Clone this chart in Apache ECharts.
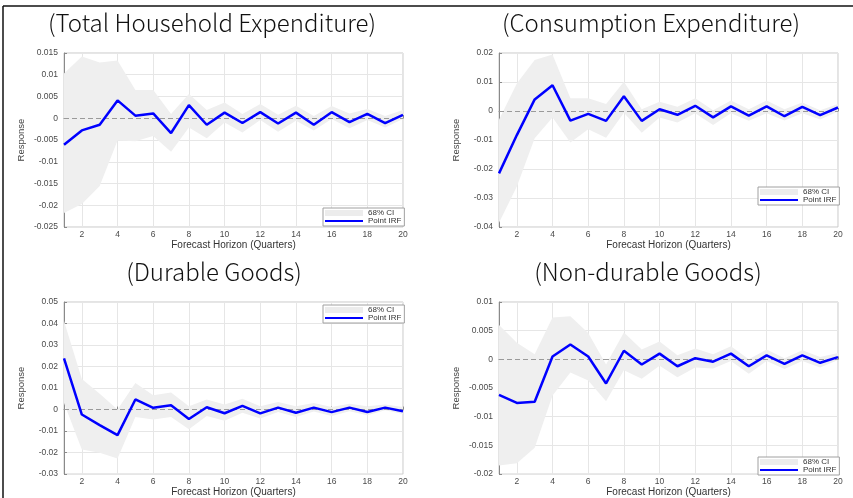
<!DOCTYPE html>
<html>
<head>
<meta charset="utf-8">
<script src="https://cdn.jsdelivr.net/npm/echarts@6/dist/echarts.min.js"></script>
<style>
  html, body { margin: 0; padding: 0; background: #fff; }
  #chart { width: 853px; height: 498px; }
</style>
</head>
<body>
<div id="chart"></div>
<script>
// Forecast horizon (quarters)
const horizon = [1,2,3,4,5,6,7,8,9,10,11,12,13,14,15,16,17,18,19,20];

// Panel titles
const panelTitles = ['(Total Household Expenditure)', '(Consumption Expenditure)', '(Durable Goods)', '(Non-durable Goods)'];

// Total household expenditure
const totalIrf   = [-0.0061,-0.0028,-0.0015,0.0041,0.0006,0.0011,-0.0034,0.0030,-0.0015,0.0013,-0.0011,0.0014,-0.0012,0.0013,-0.0015,0.0014,-0.0009,0.0010,-0.0011,0.0008];
const totalUpper = [0.0103,0.0142,0.0128,0.0133,0.0065,0.0065,0.0010,0.0056,0.0019,0.0036,0.0010,0.0033,0.0008,0.0029,0.0005,0.0028,0.0011,0.0021,0.0005,0.0019];
const totalLower = [-0.0218,-0.0197,-0.0156,-0.0051,-0.0053,-0.0041,-0.0077,-0.0021,-0.0046,-0.0010,-0.0033,-0.0004,-0.0031,-0.0006,-0.0028,-0.0002,-0.0023,-0.0004,-0.0021,-0.0002];

// Consumption expenditure
const consIrf   = [-0.0215,-0.0083,0.0040,0.0089,-0.0033,-0.0010,-0.0034,0.0051,-0.0034,0.0006,-0.0013,0.0018,-0.0022,0.0016,-0.0016,0.0016,-0.0018,0.0014,-0.0014,0.0012];
const consUpper = [-0.0030,0.0095,0.0176,0.0195,0.0044,0.0044,0.0024,0.0101,0.0006,0.0032,0.0015,0.0044,0.0003,0.0036,0.0006,0.0036,0.0006,0.0029,0.0003,0.0024];
const consLower = [-0.0385,-0.0260,-0.0094,-0.0022,-0.0109,-0.0063,-0.0092,-0.0006,-0.0075,-0.0022,-0.0040,-0.0008,-0.0048,-0.0008,-0.0034,-0.0008,-0.0033,-0.0008,-0.0029,-0.0002];

// Durable goods
const durIrf   = [0.0238,-0.0023,-0.0072,-0.0119,0.0047,0.0008,0.0020,-0.0044,0.0011,-0.0017,0.0017,-0.0018,0.0009,-0.0015,0.0009,-0.0012,0.0009,-0.0011,0.0009,-0.0008];
const durUpper = [0.0412,0.0142,0.0073,0.0000,0.0123,0.0066,0.0079,0.0015,0.0047,0.0024,0.0050,0.0015,0.0035,0.0015,0.0030,0.0012,0.0027,0.0015,0.0024,0.0012];
const durLower = [0.0030,-0.0186,-0.0201,-0.0227,-0.0034,-0.0046,-0.0034,-0.0091,-0.0030,-0.0052,-0.0015,-0.0041,-0.0011,-0.0034,-0.0009,-0.0030,-0.0008,-0.0026,-0.0003,-0.0021];

// Non-durable goods
const nondurIrf   = [-0.0062,-0.0076,-0.0074,0.0005,0.0026,0.0005,-0.0042,0.0015,-0.0009,0.0010,-0.0012,0.0002,-0.0004,0.0010,-0.0012,0.0007,-0.0008,0.0007,-0.0006,0.0004];
const nondurUpper = [0.0060,0.0029,0.0009,0.0073,0.0075,0.0046,-0.0009,0.0047,0.0017,0.0031,0.0007,0.0019,0.0009,0.0023,0.0000,0.0017,0.0002,0.0016,0.0004,0.0011];
const nondurLower = [-0.0185,-0.0181,-0.0154,-0.0063,-0.0023,-0.0037,-0.0073,-0.0019,-0.0034,-0.0011,-0.0031,-0.0014,-0.0016,-0.0003,-0.0025,-0.0003,-0.0017,-0.0003,-0.0014,-0.0001];

// y-axis ranges per panel: [min, max, interval]
const yRanges = [
  [-0.025, 0.015, 0.005],
  [-0.04, 0.02, 0.01],
  [-0.03, 0.05, 0.01],
  [-0.02, 0.01, 0.005]
];

const panels = [
  { irf: totalIrf,  upper: totalUpper,  lower: totalLower },
  { irf: consIrf,   upper: consUpper,   lower: consLower },
  { irf: durIrf,    upper: durUpper,    lower: durLower },
  { irf: nondurIrf, upper: nondurUpper, lower: nondurLower }
];

// Layout of the four plot areas
const grids = [
  { left: 64,  top: 53,  width: 339, height: 174 },
  { left: 499, top: 53,  width: 339, height: 174 },
  { left: 64,  top: 302, width: 339, height: 175 },
  { left: 499, top: 302, width: 339, height: 175 }
];
const legendPos = [
  { left: 323, top: 208 },
  { left: 758, top: 187 },
  { left: 323, top: 305 },
  { left: 758, top: 457 }
];
const titlePos = [[212, 23], [651, 23], [214, 272], [648, 272]];

const tickFont = { fontFamily: 'Liberation Sans', fontSize: 8.5, color: '#4a4a4a' };
const evenTick = (idx, val) => Number(val) % 2 === 0;

const option = {
  animation: false,
  backgroundColor: '#fff',
  grid: grids.map(g => Object.assign({ show: true, borderColor: '#c8c8c8', borderWidth: 1, backgroundColor: '#fff' }, g)),
  xAxis: grids.map((g, i) => ({
    type: 'category',
    gridIndex: i,
    data: horizon.map(String),
    boundaryGap: false,
    name: 'Forecast Horizon (Quarters)',
    nameLocation: 'middle',
    nameGap: 8,
    nameTextStyle: { fontFamily: 'Liberation Sans', fontSize: 10, color: '#333' },
    axisLine: { lineStyle: { color: '#8a8a8a', width: 1 } },
    axisTick: { interval: evenTick, length: 3, inside: true, lineStyle: { color: '#8a8a8a' } },
    axisLabel: Object.assign({ interval: evenTick, margin: 3 }, tickFont),
    splitLine: { show: true, interval: evenTick, lineStyle: { color: '#e6e6e6', width: 1 } }
  })),
  yAxis: yRanges.map((r, i) => ({
    type: 'value',
    gridIndex: i,
    min: r[0], max: r[1], interval: r[2],
    name: 'Response',
    nameLocation: 'middle',
    nameGap: 38,
    nameTextStyle: { fontFamily: 'Liberation Sans Narrow, Liberation Sans', fontSize: 9.5, color: '#444' },
    axisLine: { show: true, lineStyle: { color: '#8a8a8a', width: 1 } },
    axisTick: { show: true, length: 3, inside: true, lineStyle: { color: '#8a8a8a' } },
    axisLabel: Object.assign({ margin: 6 }, tickFont),
    splitLine: { show: true, lineStyle: { color: '#e6e6e6', width: 1 } }
  })),
  legend: legendPos.map((p, i) => ({
    left: p.left, top: p.top,
    orient: 'vertical',
    itemGap: 0,
    itemWidth: 38, itemHeight: 6,
    padding: [1, 3, 1, 2],
    borderColor: '#a0a0a0', borderWidth: 1,
    backgroundColor: '#fff',
    textStyle: { fontFamily: 'Liberation Sans', fontSize: 8, color: '#333', width: 28, align: 'right', padding: 0 },
    data: [
      { name: 'CI' + i, icon: 'rect', itemStyle: { color: '#ececec' } },
      { name: 'IRF' + i, icon: 'path://M0,0 L40,0 L40,2 L0,2 Z', itemStyle: { color: '#0000ff' } }
    ],
    formatter: name => name.startsWith('CI') ? '68% CI' : 'Point IRF',
    selectedMode: false
  })),
  graphic: [
    // outer frame lines
    { type: 'line', shape: { x1: 3, y1: 6, x2: 853, y2: 6 }, style: { stroke: '#111', lineWidth: 1.5 } },
    { type: 'line', shape: { x1: 3, y1: 6, x2: 3, y2: 498 }, style: { stroke: '#111', lineWidth: 1.5 } }
  ].concat(panelTitles.map((t, i) => ({
    type: 'text',
    x: titlePos[i][0], y: titlePos[i][1],
    style: {
      text: t,
      fontFamily: 'Noto Sans CJK KR',
      fontWeight: 300,
      fontSize: 24,
      fill: '#111',
      textAlign: 'center',
      textVerticalAlign: 'middle'
    }
  }))),
  series: []
};

panels.forEach((p, i) => {
  const stackId = 'band' + i;
  option.series.push({
    name: 'lowerBase' + i,
    type: 'line',
    xAxisIndex: i, yAxisIndex: i,
    data: p.lower,
    stack: stackId,
    stackStrategy: 'all',
    symbol: 'none',
    lineStyle: { opacity: 0 },
    silent: true
  });
  option.series.push({
    name: 'CI' + i,
    type: 'line',
    xAxisIndex: i, yAxisIndex: i,
    data: p.upper.map((u, k) => u - p.lower[k]),
    stack: stackId,
    stackStrategy: 'all',
    symbol: 'none',
    lineStyle: { opacity: 0 },
    areaStyle: { color: '#efefef', opacity: 1 },
    silent: true,
    markLine: {
      silent: true,
      symbol: 'none',
      label: { show: false },
      lineStyle: { color: '#9a9a9a', type: [5, 3], width: 1 },
      data: [{ yAxis: 0 }]
    }
  });
  option.series.push({
    name: 'IRF' + i,
    type: 'line',
    xAxisIndex: i, yAxisIndex: i,
    data: p.irf,
    symbol: 'none',
    lineStyle: { color: '#0000ff', width: 2.5 },
    itemStyle: { color: '#0000ff' },
    z: 5
  });
});

const chart = echarts.init(document.getElementById('chart'), null, { renderer: 'canvas' });
chart.setOption(option);
</script>
</body>
</html>
